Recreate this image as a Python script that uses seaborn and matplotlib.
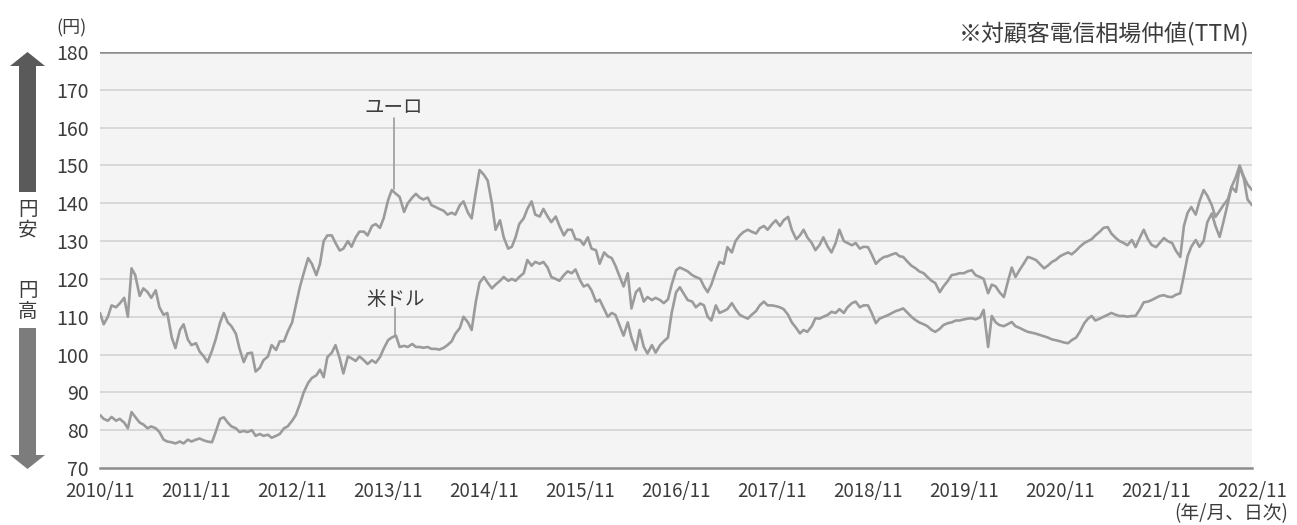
import pandas as pd
import seaborn as sns
import matplotlib.pyplot as plt
from matplotlib.patches import Polygon

# ==========================================
# 1. データ (半月ごとの読み取り値 2010/11/01 - 2022/11/01)
# ==========================================
start_date = '2010-11-01'

usd = [
    84, 83, 82.5, 83.5, 82.5, 83, 82, 80.5, 84.8, 83.5, 82, 81.5, 80.5, 81, 80.5, 79.5, 77.5, 77, 76.8, 76.5, 77, 76.5, 77.5, 77,
    77.5, 77.8, 77.3, 77, 76.8, 79.5, 83, 83.4, 82, 81, 80.5, 79.5, 79.8, 79.5, 80, 78.5, 79, 78.5, 78.8, 78, 78.5, 79, 80.5, 81,
    82.5, 84, 87, 90, 92.5, 93.8, 94.5, 96, 94, 99.3, 100.5, 102.5, 99, 95, 99.5, 99, 98.3, 99.5, 98.5, 97.5, 98.5, 97.8, 99.3, 101.5,
    103.8, 104.5, 105, 102, 102.3, 102, 102.8, 102, 102, 101.8, 102, 101.5, 101.5, 101.3, 101.8, 102.5, 103.5, 105.5, 107, 110, 108.5, 106.5, 114, 119,
    120.5, 119, 117.5, 118.5, 119.5, 120.5, 119.5, 120, 119.5, 120.5, 121.5, 125, 123.5, 124.5, 124, 124.5, 123, 120.5, 120, 119.5, 121, 122, 121.5, 122.5,
    119.7, 118, 118.5, 117, 114, 114.5, 112, 110, 111, 110.5, 107.5, 105, 108.5, 104.5, 101.2, 106.5, 102, 100.3, 102.5, 100.5, 102.5, 103.5, 104.5, 111,
    116.5, 117.8, 116, 114.4, 114, 112.5, 113.5, 113, 110, 109, 113, 111, 111.5, 112, 113.6, 112, 110.5, 110, 109.5, 110.5, 111.5, 113, 114, 113,
    113, 112.8, 112.5, 112, 110.5, 108.5, 107, 105.6, 106.5, 106, 107.5, 109.6, 109.5, 110, 110.5, 111.3, 111, 112, 111, 112.5, 113.6, 114, 112.5, 113,
    113, 111, 108.3, 109.5, 110, 110.4, 111, 111.5, 111.8, 112.2, 111, 110, 109.1, 108.5, 108, 107.5, 106.5, 106, 106.8, 107.8, 108.3, 108.5, 109, 109,
    109.3, 109.5, 109.6, 109.3, 109.8, 111.8, 102, 110.2, 108.5, 107.8, 107.5, 108, 108.6, 107.5, 107, 106.5, 106, 105.8, 105.5, 105.2, 104.8, 104.5, 104, 103.8,
    103.5, 103.2, 103, 103.8, 104.5, 106, 108.3, 109.5, 110.2, 109, 109.5, 110, 110.5, 111, 110.5, 110.2, 110.2, 110, 110.2, 110.2, 112, 113.8, 114, 114.4,
    115, 115.5, 115.7, 115.3, 115.2, 115.8, 116.2, 121, 126, 128.5, 130.3, 128.5, 130, 135, 137.3, 134, 131.1, 135, 140, 144.3, 143, 149.6, 146.5, 141,
    139.5,
]

eur = [
    111, 108, 110, 113, 112.5, 113.5, 115, 110, 122.8, 121, 115.5, 117.5, 116.5, 115, 117, 112.5, 110.5, 111, 104.5, 101.7, 106.5, 108, 104, 102.5,
    103, 100.8, 99.5, 98, 101, 104, 108.5, 111, 108.5, 107.5, 105.5, 101.5, 98, 100.3, 100.5, 95.5, 96.5, 98.5, 99.5, 102.5, 101.2, 103.5, 103.5, 106,
    108.5, 113, 118, 121.5, 125.5, 124, 121, 124, 130, 131.5, 131.5, 129.5, 127.5, 128, 130, 128.5, 131, 132.5, 132.5, 131.5, 134, 134.5, 133.5, 136,
    140.8, 143.5, 142.5, 141.7, 137.7, 140, 141.5, 142.5, 141.5, 141, 141.5, 139.5, 139, 138.5, 138, 137, 137.5, 137, 139.5, 140.5, 137.5, 136, 143, 148.8,
    147.5, 146, 140, 133, 135.5, 131, 128, 128.5, 131, 134.5, 136, 138.5, 140.5, 137, 136.5, 138.5, 136.5, 135, 136.5, 134, 131.5, 133, 133, 130.5,
    130.3, 129, 131, 128, 127.6, 124, 127, 126, 125.5, 123.5, 120.5, 118, 121.5, 112.2, 116.5, 117.5, 114, 115.2, 114.4, 115, 114.4, 113.6, 114.6, 118.5,
    122.3, 123, 122.5, 122, 121, 120.5, 120, 118, 116.5, 118.5, 122, 124.5, 124, 128.4, 127, 130, 131.5, 132.4, 133, 132.5, 132, 133.4, 134, 133,
    134.5, 135.5, 134, 135.5, 136.4, 133, 130.5, 131.5, 133, 131, 129.5, 127.6, 129, 131, 128.5, 127, 129.5, 133, 130, 129.5, 128.9, 129.5, 128, 128.5,
    128.4, 126.5, 124, 125, 125.8, 126, 126.5, 126.8, 126, 125.8, 124.5, 123.5, 122.8, 122, 121.5, 120.5, 119.5, 118.9, 116.5, 118, 119.5, 121, 121.2, 121.5,
    121.5, 122, 122.3, 121, 120.5, 120, 116.2, 118.5, 118, 116.5, 115.2, 119, 123, 120.5, 122.5, 124, 125.8, 125.5, 125, 124, 122.8, 123.5, 124.5, 125,
    126, 126.5, 127, 126.5, 127.5, 128.5, 129.5, 130, 130.5, 131.5, 132.5, 133.5, 133.7, 132, 130.8, 130, 129.5, 128.9, 130.3, 128.4, 131, 133, 130.5, 129,
    128.4, 129.5, 130.8, 130, 129.5, 127.5, 125.8, 134, 137.5, 139, 137, 140.5, 143.5, 142, 139.5, 136.4, 138, 139.5, 141, 144.3, 147, 150, 147, 145,
    143.5,
]

y_ticks = list(range(70, 181, 10))
tick_years = list(range(2010, 2023))

assert len(usd) == 289 and len(eur) == 289, (len(usd), len(eur))

# ==========================================
# 2. スタイル
# ==========================================
sns.set_theme(style="white")
plt.rcParams['font.family'] = ['Noto Sans CJK JP', 'DejaVu Sans']

LINE = '#9b9b9b'
TXT = '#3c3c3c'
AXIS = '#8c8c8c'

dates = pd.date_range(start_date, periods=len(usd), freq='SMS')
df = pd.DataFrame({
    'date': list(dates) * 2,
    'rate': usd + eur,
    'ccy': ['米ドル'] * len(usd) + ['ユーロ'] * len(eur),
})

W, H = 1297, 525
fig = plt.figure(figsize=(W / 100, H / 100), dpi=100)
ax = fig.add_axes([100 / W, 1 - 468 / H, 1152 / W, 416 / H])
ax.set_facecolor('#f4f4f4')

for v in y_ticks[1:-1]:
    ax.axhline(v, color='#d6d6d6', lw=1.3, zorder=0)
ax.axhline(180, color=AXIS, lw=1.8, zorder=1)

sns.lineplot(data=df, x='date', y='rate', hue='ccy', palette=[LINE, LINE],
             linewidth=1.9, legend=False, errorbar=None, ax=ax)

# 注記 (ユーロ / 米ドル)
d_eur = pd.Timestamp('2013-11-24')
ax.plot([d_eur, d_eur], [162.6, 143.8], color=LINE, lw=1.2)
ax.text(d_eur, 165.2, 'ユーロ', ha='center', va='center', fontsize=14, color=TXT)
d_usd = pd.Timestamp('2013-11-28')
ax.plot([d_usd, d_usd], [112.2, 105.2], color=LINE, lw=1.2)
ax.text(d_usd, 114.6, '米ドル', ha='center', va='center', fontsize=14, color=TXT)

ax.set_xlim(dates[0], dates[-1])
ax.set_ylim(70, 180)
ax.set_yticks(y_ticks)
ax.set_yticklabels([str(v) for v in y_ticks])
tick_dates = pd.to_datetime([f'{y}-11-01' for y in tick_years])
ax.set_xticks(tick_dates)
ax.set_xticklabels([f'{y}/11' for y in tick_years])
ax.set_xlabel('')
ax.set_ylabel('')

for s in ['top', 'right', 'left']:
    ax.spines[s].set_visible(False)
ax.spines['bottom'].set_color(AXIS)
ax.spines['bottom'].set_linewidth(1.8)
ax.tick_params(axis='x', direction='in', length=7, width=1.5, color=AXIS,
               labelsize=13.5, labelcolor=TXT, pad=9)
ax.tick_params(axis='y', length=0, labelsize=14, labelcolor=TXT, pad=8)

# ==========================================
# 3. 矢印とラベル (ピクセル座標のオーバーレイ)
# ==========================================
ov = fig.add_axes([0, 0, 1, 1])
ov.set_xlim(0, W)
ov.set_ylim(H, 0)
ov.axis('off')
ov.patch.set_alpha(0)

up = [(27.5, 52), (45, 66), (36, 66), (36, 192), (19, 192), (19, 66), (10, 66)]
down = [(27.5, 469), (45, 455), (36, 455), (36, 328), (19, 328), (19, 455), (10, 455)]
ov.add_patch(Polygon(up, closed=True, color='#5a5a5a', lw=0))
ov.add_patch(Polygon(down, closed=True, color='#7c7c7c', lw=0))
ov.text(27.5, 220, '円\n安', ha='center', va='center', fontsize=14, color=TXT, linespacing=1.0)
ov.text(27.5, 301, '円\n高', ha='center', va='center', fontsize=14, color=TXT, linespacing=1.0)

ov.text(72, 28, '(円)', ha='center', va='center', fontsize=13, color=TXT)
ov.text(1249, 33, '※対顧客電信相場仲値(TTM)', ha='right', va='center', fontsize=16.5, color=TXT)
ov.text(1288, 514, '(年/月、日次)', ha='right', va='center', fontsize=13.5, color=TXT)

fig.savefig('out.png', dpi=100)
